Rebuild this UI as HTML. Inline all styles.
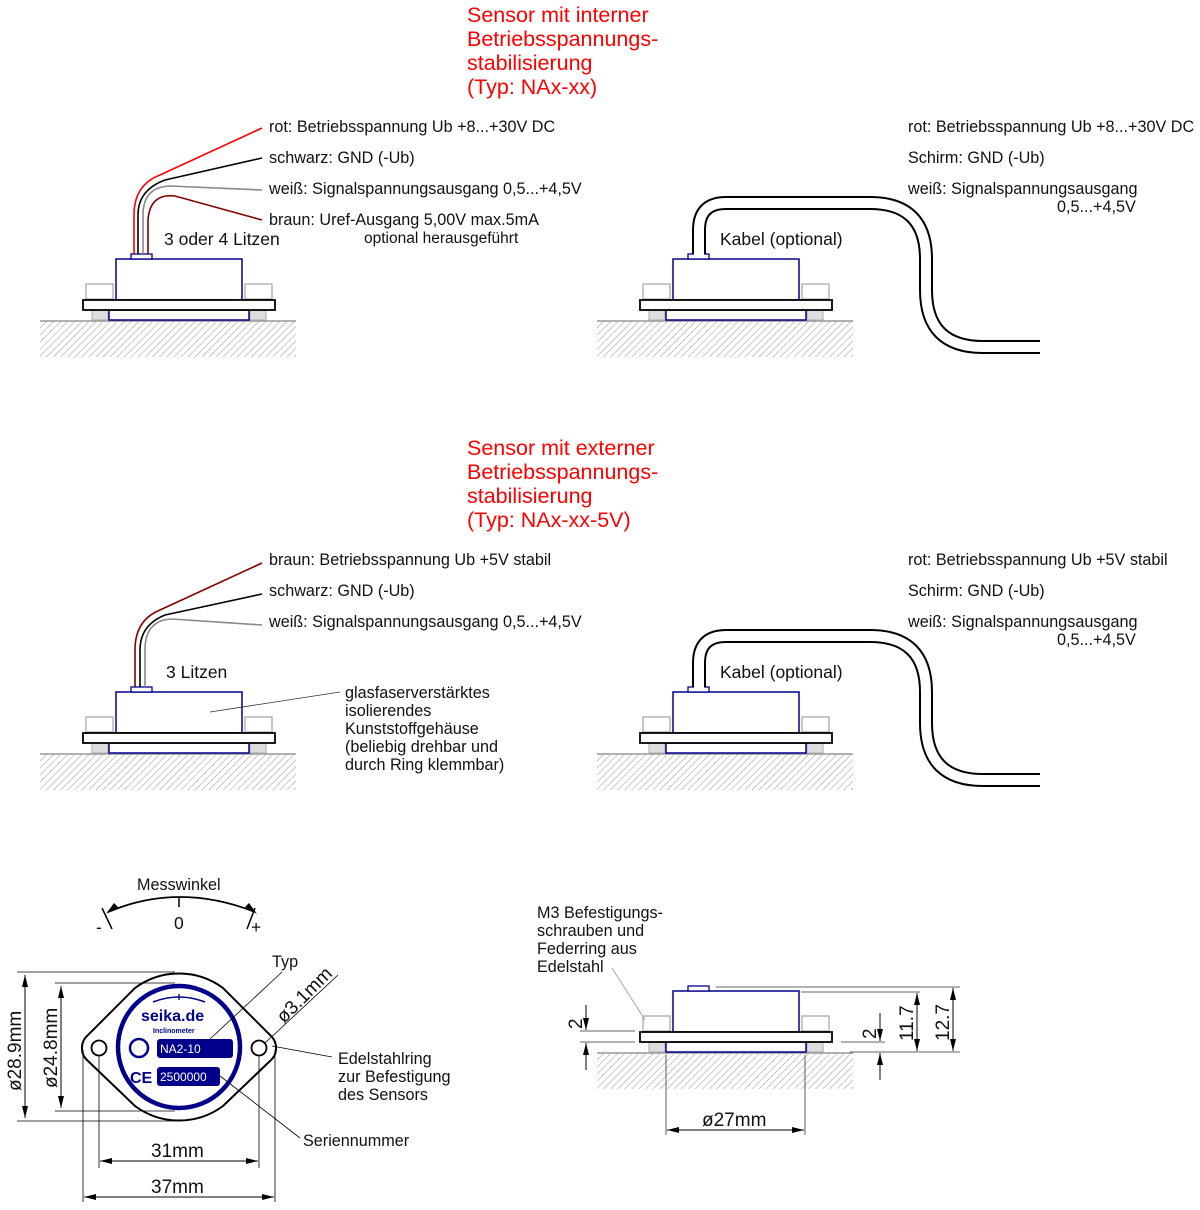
<!DOCTYPE html>
<html><head><meta charset="utf-8"><style>
html,body{margin:0;padding:0;background:#fff}
svg{display:block}
text{font-family:"Liberation Sans",sans-serif;font-size:16.2px;fill:#111}
.red{fill:#f00;font-size:21.5px}
</style></head><body>
<svg width="1200" height="1210" viewBox="0 0 1200 1210" xmlns="http://www.w3.org/2000/svg">
<defs>
<pattern id="h" width="5" height="5" patternUnits="userSpaceOnUse" patternTransform="rotate(45)">
<line x1="0" y1="0" x2="0" y2="5" stroke="#999" stroke-width="1"/>
</pattern>
<marker id="a" markerWidth="12" markerHeight="8" refX="12" refY="4" orient="auto" markerUnits="userSpaceOnUse">
<path d="M0,1 L12,4 L0,7 Z" fill="#000"/></marker>
<g id="s">
<rect x="40" y="321" width="256" height="36" fill="url(#h)"/>
<line x1="40" y1="321" x2="296" y2="321" stroke="#999" stroke-width="1.5"/>
<rect x="86" y="284" width="27" height="15" fill="#fff" stroke="#aaa" stroke-width="1.3"/>
<rect x="245" y="284" width="27" height="15" fill="#fff" stroke="#aaa" stroke-width="1.3"/>
<rect x="92" y="310" width="16" height="10" fill="#ddd" stroke="#aaa"/>
<rect x="250" y="310" width="16" height="10" fill="#ddd" stroke="#aaa"/>
<rect x="109" y="310" width="140" height="10" fill="#fff" stroke="#00008b" stroke-width="1.5"/>
<rect x="116" y="259" width="126" height="41" fill="#fff" stroke="#00008b" stroke-width="1.5"/>
<rect x="131" y="254" width="21" height="5" fill="#fff" stroke="#00008b" stroke-width="1.3"/>
<rect x="83" y="300" width="192" height="10" fill="#fff" stroke="#000" stroke-width="1.8"/>
</g>
<g id="cab">
<path d="M699,254 V230 Q699,203 726,203 H870 Q926,203 926,259 V290 Q926,347 983,347 H1040" fill="none" stroke="#000" stroke-width="14"/>
<path d="M699,256 V230 Q699,203 726,203 H870 Q926,203 926,259 V290 Q926,347 983,347 H1042" fill="none" stroke="#fff" stroke-width="10"/>
</g>
</defs>

<text class="red" x="467" y="22">Sensor mit interner</text>
<text class="red" x="467" y="46">Betriebsspannungs-</text>
<text class="red" x="467" y="70">stabilisierung</text>
<text class="red" x="467" y="94">(Typ: NAx-xx)</text>
<text class="red" x="467" y="455">Sensor mit externer</text>
<text class="red" x="467" y="479">Betriebsspannungs-</text>
<text class="red" x="467" y="503">stabilisierung</text>
<text class="red" x="467" y="527">(Typ: NAx-xx-5V)</text>

<use href="#s"/>
<path d="M134,254 V215 Q134,185 160,175 L262,128" fill="none" stroke="#f00" stroke-width="1.6"/>
<path d="M138,254 V215 Q138,190 165,180 L262,158" fill="none" stroke="#000" stroke-width="1.6"/>
<path d="M143,254 V215 Q143,187 170,186 L262,190" fill="none" stroke="#888" stroke-width="1.6"/>
<path d="M148,254 V220 Q150,193 175,196 L262,220" fill="none" stroke="#800000" stroke-width="1.6"/>
<text x="269" y="132">rot: Betriebsspannung Ub +8...+30V DC</text>
<text x="269" y="163">schwarz: GND (-Ub)</text>
<text x="269" y="194">weiß: Signalspannungsausgang 0,5...+4,5V</text>
<text x="269" y="225">braun: Uref-Ausgang 5,00V max.5mA</text>
<text x="364" y="243" style="font-size:15.5px">optional herausgeführt</text>
<text x="164" y="245" style="font-size:17.5px">3 oder 4 Litzen</text>

<use href="#s" x="557"/>
<use href="#cab"/>
<text x="720" y="245" style="font-size:17.5px">Kabel (optional)</text>
<text x="908" y="132">rot: Betriebsspannung Ub +8...+30V DC</text>
<text x="908" y="163">Schirm: GND (-Ub)</text>
<text x="908" y="194">weiß: Signalspannungsausgang</text>
<text x="1057" y="212">0,5...+4,5V</text>

<use href="#s" y="433"/>
<path d="M135,687 V650 Q135,620 160,610 L262,563" fill="none" stroke="#800000" stroke-width="1.6"/>
<path d="M140,687 V650 Q140,625 165,615 L262,594" fill="none" stroke="#000" stroke-width="1.6"/>
<path d="M145,687 V650 Q145,620 172,619 L262,625" fill="none" stroke="#888" stroke-width="1.6"/>
<text x="269" y="565">braun: Betriebsspannung Ub +5V stabil</text>
<text x="269" y="596">schwarz: GND (-Ub)</text>
<text x="269" y="627">weiß: Signalspannungsausgang 0,5...+4,5V</text>
<text x="166" y="678" style="font-size:17.5px">3 Litzen</text>
<line x1="210" y1="712" x2="340" y2="692" stroke="#333" stroke-width="0.8"/>
<text x="345" y="698">glasfaserverstärktes</text>
<text x="345" y="716">isolierendes</text>
<text x="345" y="734">Kunststoffgehäuse</text>
<text x="345" y="752">(beliebig drehbar und</text>
<text x="345" y="770">durch Ring klemmbar)</text>

<use href="#s" x="557" y="433"/>
<use href="#cab" y="433"/>
<text x="720" y="678" style="font-size:17.5px">Kabel (optional)</text>
<text x="908" y="565">rot: Betriebsspannung Ub +5V stabil</text>
<text x="908" y="596">Schirm: GND (-Ub)</text>
<text x="908" y="627">weiß: Signalspannungsausgang</text>
<text x="1057" y="645">0,5...+4,5V</text>

<text x="137" y="890">Messwinkel</text>
<path d="M108,912 Q179,882 255,912" fill="none" stroke="#000" stroke-width="1.8"/>
<path d="M118,907 L106,914 L114,903 Z" fill="#000"/>
<path d="M245,907 L257,914 L249,903 Z" fill="#000"/>
<line x1="179" y1="898" x2="179" y2="907" stroke="#000" stroke-width="1.5"/>
<line x1="102" y1="908" x2="112" y2="929" stroke="#000" stroke-width="1.5"/>
<line x1="255" y1="908" x2="247" y2="929" stroke="#000" stroke-width="1.5"/>
<text x="174" y="929" style="font-size:17.5px">0</text>
<text x="96" y="933" style="font-size:17.5px">-</text>
<text x="251" y="933" style="font-size:17.5px">+</text>

<path d="M88,1035 L135,988 A74 74 0 0 1 223,988 L270,1035 A17 17 0 0 1 270,1061 L223,1106 A74 74 0 0 1 135,1106 L88,1061 A17 17 0 0 1 88,1035 Z" fill="#fff" stroke="#000" stroke-width="2"/>
<circle cx="179" cy="1047" r="61" fill="#fff" stroke="#00008b" stroke-width="4.5"/>
<circle cx="99" cy="1048" r="7.5" fill="#fff" stroke="#000" stroke-width="1.8"/>
<circle cx="259" cy="1048" r="7.5" fill="#fff" stroke="#000" stroke-width="1.8"/>
<path d="M153,1002 Q179,992 205,1002" fill="none" stroke="#00008b" stroke-width="1.5"/>
<line x1="179" y1="994" x2="179" y2="1000" stroke="#00008b" stroke-width="1.3"/>
<text x="141" y="1021" style="font-size:16px;fill:#00008b;font-weight:bold">seika.de</text>
<text x="153" y="1033" style="font-size:7px;fill:#00008b;font-weight:bold">Inclinometer</text>
<circle cx="139" cy="1048" r="9" fill="none" stroke="#00008b" stroke-width="2.5"/>
<rect x="157" y="1039" width="76" height="19" rx="3" fill="#00008b"/>
<text x="160" y="1053" style="font-size:12px;fill:#fff">NA2-10</text>
<rect x="157" y="1067" width="63" height="19" rx="3" fill="#00008b"/>
<text x="160" y="1081" style="font-size:12px;fill:#fff">2500000</text>
<text x="130" y="1083" style="font-size:16px;fill:#00008b;font-weight:bold">CE</text>

<g stroke="#000" stroke-width="0.8" fill="none">
<line x1="17" y1="972" x2="175" y2="972"/>
<line x1="17" y1="1121" x2="175" y2="1121"/>
<line x1="55" y1="983" x2="175" y2="983"/>
<line x1="55" y1="1111" x2="175" y2="1111"/>
<line x1="83" y1="1050" x2="83" y2="1202"/>
<line x1="275" y1="1050" x2="275" y2="1202"/>
<line x1="99" y1="1056" x2="99" y2="1168"/>
<line x1="259" y1="1056" x2="259" y2="1168"/>
<line x1="210" y1="1039" x2="282" y2="972"/>
<line x1="220" y1="1076" x2="300" y2="1138"/>
<line x1="272" y1="1046" x2="332" y2="1057"/>
<line x1="265" y1="1043" x2="338" y2="975"/>
</g>
<g stroke="#000" stroke-width="1">
<line x1="25" y1="975" x2="25" y2="1118" marker-end="url(#a)"/>
<line x1="25" y1="1118" x2="25" y2="975" marker-end="url(#a)"/>
<line x1="61" y1="986" x2="61" y2="1108" marker-end="url(#a)"/>
<line x1="61" y1="1108" x2="61" y2="986" marker-end="url(#a)"/>
<line x1="100" y1="1161" x2="258" y2="1161" marker-end="url(#a)"/>
<line x1="258" y1="1161" x2="100" y2="1161" marker-end="url(#a)"/>
<line x1="84" y1="1197" x2="274" y2="1197" marker-end="url(#a)"/>
<line x1="274" y1="1197" x2="84" y2="1197" marker-end="url(#a)"/>
</g>
<text x="151" y="1157" style="font-size:19px">31mm</text>
<text x="151" y="1193" style="font-size:19px">37mm</text>
<text transform="translate(21,1091) rotate(-90)" style="font-size:19px">ø28.9mm</text>
<text transform="translate(57,1088) rotate(-90)" style="font-size:19px">ø24.8mm</text>
<text transform="translate(284,1024) rotate(-45)" style="font-size:19px">ø3.1mm</text>
<text x="272" y="967">Typ</text>
<text x="338" y="1064">Edelstahlring</text>
<text x="338" y="1082">zur Befestigung</text>
<text x="338" y="1100">des Sensors</text>
<text x="303" y="1146">Seriennummer</text>

<use href="#s" x="557" y="732"/>
<text x="537" y="918">M3 Befestigungs-</text>
<text x="537" y="936">schrauben und</text>
<text x="537" y="954">Federring aus</text>
<text x="537" y="972">Edelstahl</text>
<g stroke="#333" stroke-width="0.8" fill="none">
<line x1="612" y1="968" x2="645" y2="1020" stroke="#999"/>
<line x1="580" y1="1031" x2="635" y2="1031"/>
<line x1="580" y1="1042" x2="635" y2="1042"/>
<line x1="841" y1="1042" x2="885" y2="1042"/>
<line x1="716" y1="987" x2="960" y2="987"/>
<line x1="801" y1="992" x2="920" y2="992"/>
<line x1="850" y1="1052" x2="960" y2="1052"/>
<line x1="666" y1="1055" x2="666" y2="1135"/>
<line x1="805" y1="1055" x2="805" y2="1135"/>
</g>
<g stroke="#000" stroke-width="1">
<line x1="586" y1="1005" x2="586" y2="1030" marker-end="url(#a)"/>
<line x1="586" y1="1070" x2="586" y2="1043" marker-end="url(#a)"/>
<line x1="880" y1="1013" x2="880" y2="1041" marker-end="url(#a)"/>
<line x1="880" y1="1080" x2="880" y2="1053" marker-end="url(#a)"/>
<line x1="917" y1="993" x2="917" y2="1051" marker-end="url(#a)"/>
<line x1="917" y1="1051" x2="917" y2="993" marker-end="url(#a)"/>
<line x1="953" y1="988" x2="953" y2="1051" marker-end="url(#a)"/>
<line x1="953" y1="1051" x2="953" y2="988" marker-end="url(#a)"/>
<line x1="667" y1="1130" x2="804" y2="1130" marker-end="url(#a)"/>
<line x1="804" y1="1130" x2="667" y2="1130" marker-end="url(#a)"/>
</g>
<text transform="translate(582,1029) rotate(-90)" style="font-size:19px">2</text>
<text transform="translate(876,1039) rotate(-90)" style="font-size:19px">2</text>
<text transform="translate(913,1041) rotate(-90)" style="font-size:19px">11.7</text>
<text transform="translate(949,1041) rotate(-90)" style="font-size:19px">12.7</text>
<text x="702" y="1126" style="font-size:19px">ø27mm</text>
</svg>
</body></html>
